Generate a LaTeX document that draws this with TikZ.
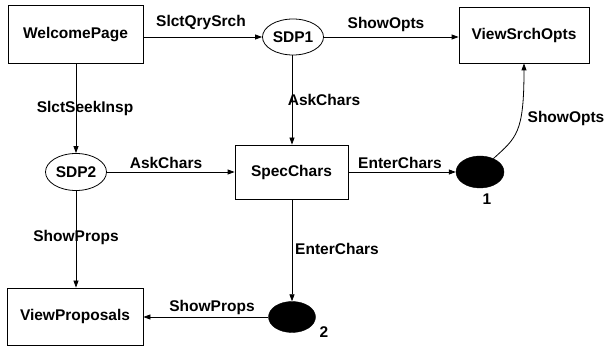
\documentclass[tikz,border=0pt]{standalone}
\usepackage{fontspec}
\setmainfont{Liberation Sans}
\usetikzlibrary{arrows.meta,shapes.geometric}

\tikzset{
  every picture/.style={x=1pt,y=1pt},
  txt/.style={font=\fontsize{15.5}{18}\selectfont\bfseries, inner sep=0pt},
  page/.style={txt, draw, line width=0.8pt, rectangle, inner sep=0pt},
  decision/.style={txt, draw, line width=0.8pt, ellipse, inner sep=0pt},
  junction/.style={ellipse, fill=black, draw=black, inner sep=0pt},
  lbl/.style={txt},
  arr/.style={line width=0.8pt, -{Triangle[length=7pt,width=5pt]}},
}

\begin{document}
\begin{tikzpicture}
  \useasboundingbox (0,0) rectangle (608,348);

  % screens and decision points
  \node[page, minimum width=135pt, minimum height=58pt] (WP)   at (75.5,313.5) {WelcomePage};
  \node[page, minimum width=130pt, minimum height=56pt] (VSO)  at (524,313)    {ViewSrchOpts};
  \node[page, minimum width=113pt, minimum height=54pt] (Spec) at (291.5,176)  {SpecChars};
  \node[page, minimum width=136pt, minimum height=57pt] (VP)   at (75,31.5)    {ViewProposals};

  \node[decision, minimum width=61pt, minimum height=36pt] (SDP1) at (293,311) {SDP1};
  \node[decision, minimum width=61pt, minimum height=37pt] (SDP2) at (76,176)  {SDP2};

  \node[junction, minimum width=48pt, minimum height=32pt] (E1) at (480,176) {};
  \node[junction, minimum width=47pt, minimum height=31pt] (E2) at (292,31)  {};
  \node[lbl] (n1) at (487,149) {1};
  \node[lbl] (n2) at (324,16)  {2};

  % transitions
  \draw[arr] (WP.east |- SDP1.west) -- (SDP1.west);
  \draw[arr] (SDP1.east) -- (VSO.west |- SDP1.east);
  \draw[arr] (SDP2 |- WP.south) -- (SDP2.north);
  \draw[arr] (SDP1.south -| E2) -- (Spec.north -| E2);
  \draw[arr] (SDP2.east) -- (Spec.west);
  \draw[arr] (Spec.east) -- (E1.west);
  \draw[arr] (SDP2.south) -- (VP.north -| SDP2);
  \draw[arr] (Spec.south -| E2) -- (E2.north);
  \draw[arr] (E2.west) -- (VP.east |- E2.west);
  \draw[arr] (E1.45) .. controls +(23,21) and +(0,-70) .. (VSO.south);

  % transition labels
  \node[lbl] (tQry)   at (201,326) {SlctQrySrch};
  \node[lbl] (tOpts1) at (386,324) {ShowOpts};
  \node[lbl] (tAsk1)  at (324,248) {AskChars};
  \node[lbl] (tSeek)  at (85,240)  {SlctSeekInsp};
  \node[lbl] (tAsk2)  at (166,185) {AskChars};
  \node[lbl] (tEnt1)  at (400,185) {EnterChars};
  \node[lbl] (tOpts2) at (566,230) {ShowOpts};
  \node[lbl] (tEnt2)  at (337,99)  {EnterChars};
  \node[lbl] (tProp1) at (76,111)  {ShowProps};
  \node[lbl] (tProp2) at (212,41)  {ShowProps};
\end{tikzpicture}
\end{document}
